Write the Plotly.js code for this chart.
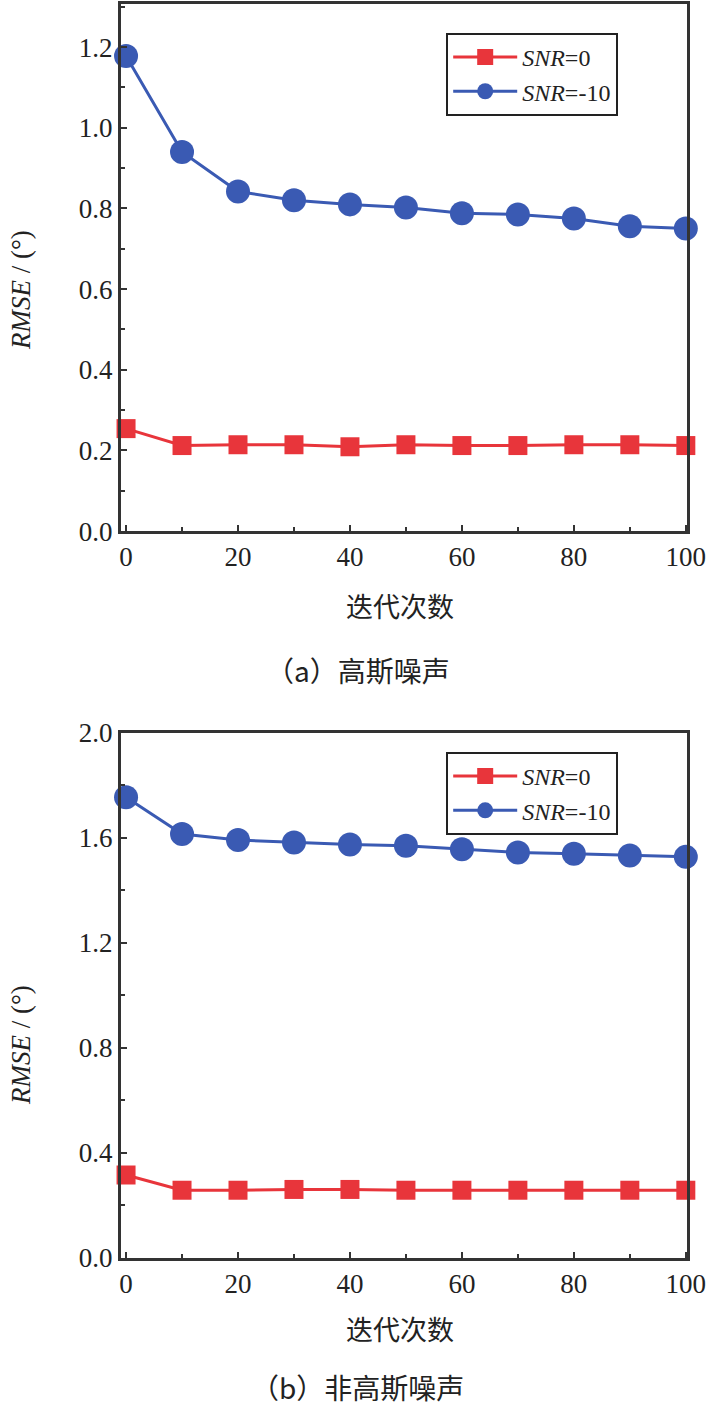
<!DOCTYPE html>
<html>
<head>
<meta charset="utf-8">
<script src="https://cdn.plot.ly/plotly-3.0.1.min.js"></script>
<style>
  html, body { margin: 0; padding: 0; background: #fff; }
  #chart { width: 706px; height: 1409px; }
</style>
</head>
<body>
<div id="chart"></div>
<script>
// 迭代次数
let iterations = [0, 10, 20, 30, 40, 50, 60, 70, 80, 90, 100];

// (a) 高斯噪声
let gaussSnr0 = [0.254, 0.212, 0.214, 0.214, 0.209, 0.214, 0.212, 0.212, 0.214, 0.214, 0.212];
let gaussSnr10 = [1.178, 0.94, 0.842, 0.82, 0.81, 0.802, 0.788, 0.785, 0.775, 0.756, 0.75];

// (b) 非高斯噪声
let nonGaussSnr0 = [0.316, 0.258, 0.258, 0.261, 0.261, 0.258, 0.258, 0.258, 0.258, 0.258, 0.258];
let nonGaussSnr10 = [1.755, 1.615, 1.592, 1.583, 1.575, 1.57, 1.557, 1.545, 1.54, 1.533, 1.528];

let seriesNames = ['<i>SNR</i>=0', '<i>SNR</i>=-10'];
let captions = ['（a）高斯噪声', '（b）非高斯噪声'];
let xTitle = '迭代次数';
let yTitle = '<i>RMSE</i> / (°)';

let red = '#e8353b';
let blue = '#3a5ab3';
let axisColor = '#333333';
let textColor = '#222222';
let serif = 'Liberation Serif, Times New Roman, serif';
let cjk = 'Noto Sans CJK SC, sans-serif';

function lineTrace(y, name, color, symbol, size, xa, ya, legend) {
    return {
        x: iterations,
        y: y,
        name: name,
        mode: 'lines+markers',
        type: 'scatter',
        xaxis: xa,
        yaxis: ya,
        legend: legend,
        cliponaxis: false,
        line: {color: color, width: 3},
        marker: {color: color, symbol: symbol, size: size}
    };
}

let traces = [
    lineTrace(gaussSnr0, seriesNames[0], red, 'square', 19, 'x', 'y', 'legend'),
    lineTrace(gaussSnr10, seriesNames[1], blue, 'circle', 24, 'x', 'y', 'legend'),
    lineTrace(nonGaussSnr0, seriesNames[0], red, 'square', 19, 'x2', 'y2', 'legend2'),
    lineTrace(nonGaussSnr10, seriesNames[1], blue, 'circle', 24, 'x2', 'y2', 'legend2')
];

function xAxis(domain, anchor) {
    return {
        domain: domain,
        anchor: anchor,
        range: [-0.9, 100.2],
        dtick: 20,
        tick0: 0,
        ticks: 'inside',
        ticklen: 6,
        tickwidth: 2,
        tickcolor: axisColor,
        minor: {dtick: 10, ticks: 'inside', ticklen: 4, tickwidth: 2, tickcolor: axisColor},
        showline: true,
        mirror: true,
        linecolor: axisColor,
        linewidth: 3,
        showgrid: false,
        zeroline: false,
        ticklabeloverflow: 'allow',
        tickfont: {family: serif, size: 27, color: textColor}
    };
}

function yAxis(domain, anchor, range, dtick) {
    return {
        domain: domain,
        anchor: anchor,
        range: range,
        dtick: dtick,
        tick0: 0,
        tickformat: '.1f',
        ticks: 'inside',
        ticklen: 6,
        tickwidth: 2,
        tickcolor: axisColor,
        minor: {dtick: dtick / 2, ticks: 'inside', ticklen: 4, tickwidth: 2, tickcolor: axisColor},
        showline: true,
        mirror: true,
        linecolor: axisColor,
        linewidth: 3,
        showgrid: false,
        zeroline: false,
        tickfont: {family: serif, size: 27, color: textColor}
    };
}

function legendBox(y) {
    return {
        x: 0.632,
        y: y,
        xanchor: 'left',
        yanchor: 'top',
        bgcolor: '#ffffff',
        bordercolor: textColor,
        borderwidth: 2,
        itemwidth: 64,
        tracegroupgap: 0,
        font: {family: serif, size: 24, color: textColor}
    };
}

function textNote(text, px, py, font, size, angle) {
    return {
        text: text, xref: 'paper', yref: 'paper',
        x: px / 706, y: 1 - py / 1409,
        xanchor: 'center', yanchor: 'middle', showarrow: false,
        textangle: angle || 0,
        font: {family: font, size: size, color: textColor}
    };
}

let layout = {
    width: 706,
    height: 1409,
    margin: {l: 0, r: 0, t: 0, b: 0},
    paper_bgcolor: '#ffffff',
    plot_bgcolor: '#ffffff',
    showlegend: true,
    xaxis: xAxis([0.1714, 0.973], 'y'),
    yaxis: yAxis([0.6231, 0.9972], 'x', [0, 1.307], 0.2),
    xaxis2: xAxis([0.1714, 0.973], 'y2'),
    yaxis2: yAxis([0.1072, 0.4798], 'x2', [0, 2.0], 0.4),
    legend: legendBox(0.9766),
    legend2: legendBox(0.4663),
    annotations: [
        textNote(xTitle, 400, 605, cjk, 27),
        textNote(xTitle, 400, 1328, cjk, 27),
        textNote(yTitle, 21, 290, serif, 27, -90),
        textNote(yTitle, 21, 1045, serif, 27, -90),
        textNote(captions[0], 358, 670, cjk, 28),
        textNote(captions[1], 358, 1387, cjk, 28)
    ]
};

Plotly.newPlot('chart', traces, layout, {displayModeBar: false, staticPlot: true});
</script>
</body>
</html>
